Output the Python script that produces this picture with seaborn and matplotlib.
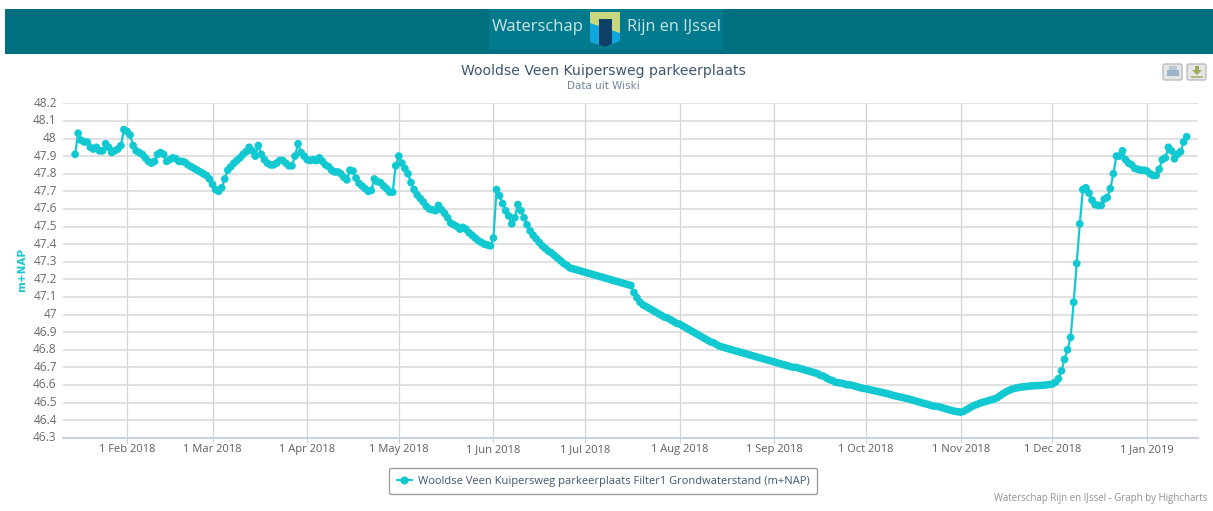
import seaborn as sns
import matplotlib.pyplot as plt
import pandas as pd
from matplotlib.lines import Line2D
from matplotlib.patches import Rectangle, Polygon, FancyBboxPatch
from matplotlib.transforms import ScaledTranslation

# values, one per day, from 15 Jan 2018
jan_2018 = [47.91, 48.03, 47.99, 47.98, 47.98, 47.95, 47.94, 47.95, 47.93, 47.93, 47.97, 47.95, 47.92, 47.93, 47.94, 47.96, 48.05]
feb_2018 = [48.04, 48.02, 47.96, 47.93, 47.92, 47.91, 47.89, 47.87, 47.86, 47.87, 47.91, 47.92, 47.91, 47.87, 47.88, 47.89, 47.885, 47.87, 47.87, 47.865, 47.85, 47.84, 47.83, 47.82, 47.81, 47.80, 47.79, 47.77]
mar_2018 = [47.74, 47.71, 47.70, 47.72, 47.77, 47.82, 47.84, 47.86, 47.875, 47.89, 47.91, 47.925, 47.95, 47.93, 47.90, 47.96, 47.91, 47.88, 47.86, 47.85, 47.85, 47.86, 47.875, 47.875, 47.86, 47.845, 47.845, 47.90, 47.97, 47.92, 47.90]
apr_2018 = [47.88, 47.875, 47.88, 47.875, 47.89, 47.87, 47.85, 47.84, 47.82, 47.81, 47.81, 47.80, 47.78, 47.765, 47.82, 47.815, 47.775, 47.745, 47.73, 47.715, 47.70, 47.705, 47.77, 47.755, 47.75, 47.73, 47.715, 47.695, 47.695, 47.845]
may_2018 = [47.90, 47.86, 47.83, 47.80, 47.75, 47.71, 47.68, 47.66, 47.64, 47.615, 47.60, 47.595, 47.59, 47.62, 47.595, 47.575, 47.55, 47.52, 47.51, 47.50, 47.485, 47.495, 47.485, 47.465, 47.45, 47.435, 47.42, 47.41, 47.40, 47.395, 47.39]
jun_2018 = [47.435, 47.71, 47.675, 47.63, 47.59, 47.56, 47.515, 47.55, 47.625, 47.59, 47.55, 47.51, 47.475, 47.45, 47.43, 47.41, 47.39, 47.375, 47.36, 47.35, 47.335, 47.32, 47.305, 47.29, 47.28, 47.265, 47.26, 47.255, 47.25, 47.245]
jul_2018 = [47.24, 47.235, 47.23, 47.225, 47.22, 47.215, 47.21, 47.205, 47.20, 47.195, 47.19, 47.185, 47.18, 47.175, 47.17, 47.165, 47.125, 47.095, 47.07, 47.055, 47.045, 47.035, 47.025, 47.015, 47.005, 46.995, 46.985, 46.98, 46.97, 46.96, 46.95]
aug_2018 = [46.945, 46.935, 46.925, 46.915, 46.905, 46.895, 46.885, 46.875, 46.865, 46.855, 46.845, 46.84, 46.83, 46.82, 46.815, 46.81, 46.805, 46.80, 46.795, 46.79, 46.785, 46.78, 46.775, 46.77, 46.765, 46.76, 46.755, 46.75, 46.745, 46.74, 46.735]
sep_2018 = [46.73, 46.725, 46.72, 46.715, 46.71, 46.705, 46.70, 46.70, 46.695, 46.69, 46.685, 46.68, 46.675, 46.67, 46.665, 46.655, 46.65, 46.64, 46.63, 46.625, 46.615, 46.612, 46.61, 46.605, 46.60, 46.60, 46.595, 46.59, 46.585, 46.58]
oct_2018 = [46.578, 46.574, 46.57, 46.566, 46.562, 46.558, 46.554, 46.55, 46.545, 46.54, 46.536, 46.532, 46.528, 46.524, 46.52, 46.515, 46.51, 46.505, 46.50, 46.495, 46.49, 46.485, 46.48, 46.478, 46.475, 46.47, 46.465, 46.46, 46.455, 46.45, 46.448]
nov_2018 = [46.445, 46.45, 46.46, 46.47, 46.48, 46.487, 46.494, 46.50, 46.505, 46.51, 46.515, 46.52, 46.528, 46.54, 46.552, 46.562, 46.57, 46.577, 46.582, 46.585, 46.588, 46.59, 46.592, 46.594, 46.595, 46.596, 46.597, 46.598, 46.60, 46.602]
dec_2018 = [46.605, 46.615, 46.635, 46.68, 46.745, 46.80, 46.87, 47.07, 47.29, 47.515, 47.71, 47.72, 47.69, 47.65, 47.625, 47.62, 47.62, 47.655, 47.665, 47.715, 47.80, 47.90, 47.90, 47.93, 47.88, 47.86, 47.85, 47.83, 47.825, 47.82, 47.82]
jan_2019 = [47.815, 47.80, 47.79, 47.79, 47.825, 47.88, 47.89, 47.95, 47.93, 47.885, 47.91, 47.925, 47.98, 48.01]

series_name = "Wooldse Veen Kuipersweg parkeerplaats Filter1 Grondwaterstand (m+NAP)"
month_ticks = ["2018-02-01", "2018-03-01", "2018-04-01", "2018-05-01", "2018-06-01", "2018-07-01", "2018-08-01",
               "2018-09-01", "2018-10-01", "2018-11-01", "2018-12-01", "2019-01-01"]
month_labels = ["1 Feb 2018", "1 Mar 2018", "1 Apr 2018", "1 May 2018", "1 Jun 2018", "1 Jul 2018", "1 Aug 2018",
                "1 Sep 2018", "1 Oct 2018", "1 Nov 2018", "1 Dec 2018", "1 Jan 2019"]
level_ticks = [46.3, 46.4, 46.5, 46.6, 46.7, 46.8, 46.9, 47, 47.1, 47.2, 47.3, 47.4, 47.5, 47.6, 47.7, 47.8, 47.9, 48, 48.1, 48.2]
level_labels = ["46.3", "46.4", "46.5", "46.6", "46.7", "46.8", "46.9", "47", "47.1", "47.2", "47.3", "47.4", "47.5",
                "47.6", "47.7", "47.8", "47.9", "48", "48.1", "48.2"]

levels = (jan_2018 + feb_2018 + mar_2018 + apr_2018 + may_2018 + jun_2018 + jul_2018 + aug_2018
          + sep_2018 + oct_2018 + nov_2018 + dec_2018 + jan_2019)
df = pd.DataFrame({"date": pd.date_range("2018-01-15", periods=len(levels), freq="D"), "level": levels})

W, H = 1213, 511
CYAN = "#12c9d2"
FONT = "Open Sans"

sns.set_style("white")
fig = plt.figure(figsize=(W / 100, H / 100), dpi=100)

# page furniture in pixel coordinates
bg = fig.add_axes([0, 0, 1, 1])
bg.set_xlim(0, W)
bg.set_ylim(H, 0)
bg.axis("off")
bg.add_patch(Rectangle((5, 9), W - 5, 45, color="#006f80", lw=0))
bg.add_patch(Rectangle((489, 9), 234, 41, color="#007a8c", lw=0))
bg.text(492, 27, "Waterschap", color="#cfe5e6", fontsize=12, family=FONT, va="center", ha="left")
bg.text(627, 27, "Rijn en IJssel", color="#cfe5e6", fontsize=11.7, family=FONT, va="center", ha="left")
bg.add_patch(Polygon([(590, 12), (620, 12), (620, 36), (590, 26)], color="#c9d77f", lw=0))
bg.add_patch(Polygon([(590, 23), (620, 33), (620, 41), (605, 47), (590, 42)], color="#0ea6dc", lw=0))
bg.add_patch(Polygon([(599, 19), (612, 19), (612, 44), (605, 47), (599, 45)], color="#0e3f66", lw=0))
bg.text(603, 71, "Wooldse Veen Kuipersweg parkeerplaats", color="#3e576f", fontsize=10.05, ha="center", va="center")
bg.text(603, 86, "Data uit Wiski", color="#6d869f", fontsize=7.5, ha="center", va="center")
bg.text(1207, 499, "Waterschap Rijn en IJssel - Graph by Highcharts", color="#909090", fontsize=6.9, family=FONT,
        ha="right", va="center")
bg.text(22, 270, "m+NAP", color=CYAN, fontsize=7.5, fontweight="bold", rotation=90, ha="center", va="center")

# export buttons
for x0 in [1163, 1187]:
    bg.add_patch(FancyBboxPatch((x0, 64), 19, 16, boxstyle="round,pad=0,rounding_size=2", fc="#e6e6e6", ec="#bcbcbc", lw=1))
bg.add_patch(Rectangle((1167, 70), 12, 6, color="#9db3ca", lw=0))
bg.add_patch(Rectangle((1169, 66), 8, 4, color="#b9c9da", lw=0))
bg.add_patch(Polygon([(1195, 66), (1199, 66), (1199, 70), (1202, 70), (1197, 75), (1192, 70), (1195, 70)], color="#a0ab60", lw=0))
bg.add_patch(Rectangle((1191, 76), 12, 2, color="#b4bb80", lw=0))

ax = fig.add_axes([63 / W, (H - 437.7) / H, 1135 / W, 334.4 / H])
ax.patch.set_alpha(0)
sns.lineplot(data=df, x="date", y="level", ax=ax, color=CYAN, linewidth=1.6, zorder=3, legend=False)
sns.scatterplot(data=df, x="date", y="level", ax=ax, color=CYAN, linewidth=0, zorder=4, legend=False)
# one size per point stops agg from snapping the markers to whole pixels
ax.collections[-1].set_sizes([31] * len(df))

ax.set_xlim(pd.Timestamp("2018-01-11 01:00"), pd.Timestamp("2019-01-17 17:00"))
ax.set_ylim(46.3, 48.2)
ax.set_xticks(pd.to_datetime(month_ticks))
ax.set_xticklabels(month_labels, family=FONT, fontsize=8, color="#5f5f5f")
ax.set_yticks(level_ticks)
ax.set_yticklabels(level_labels, family=FONT, fontsize=8.6, color="#6b6b6b")
ax.set_xlabel("")
ax.set_ylabel("")
ax.grid(True, axis="y", color="#d8d8d8", linewidth=1.1)
ax.grid(True, axis="x", color="#d4d4d4", linewidth=0.9)
ax.set_axisbelow(True)
for name in ["top", "left", "right"]:
    ax.spines[name].set_visible(False)
ax.spines["bottom"].set_color("#c8d2e0")
ax.spines["bottom"].set_linewidth(1.4)
ax.tick_params(axis="x", length=3.5, width=0.7, color="#c0d0e0", pad=1, bottom=True)
ax.tick_params(axis="y", length=0, pad=4.5)
for lbl in ax.get_yticklabels():
    lbl.set_transform(lbl.get_transform() + ScaledTranslation(0, 1.5 / 100, fig.dpi_scale_trans))

handle = Line2D([], [], color=CYAN, linewidth=1.6, marker="o", markersize=5.8, markeredgewidth=0)
leg = ax.legend([handle], [series_name], loc="center", bbox_to_anchor=((603 - 63) / 1135, -(481 - 437.7) / 334.4),
                frameon=True, fancybox=True, edgecolor="#a0a0a0", facecolor="white", framealpha=1, handlelength=1.4,
                handletextpad=0.5, borderpad=0.7, prop={"family": FONT, "size": 8})
leg.get_frame().set_linewidth(1)
for text in leg.get_texts():
    text.set_color("#3e576f")

plt.savefig("out.png", dpi=100)
